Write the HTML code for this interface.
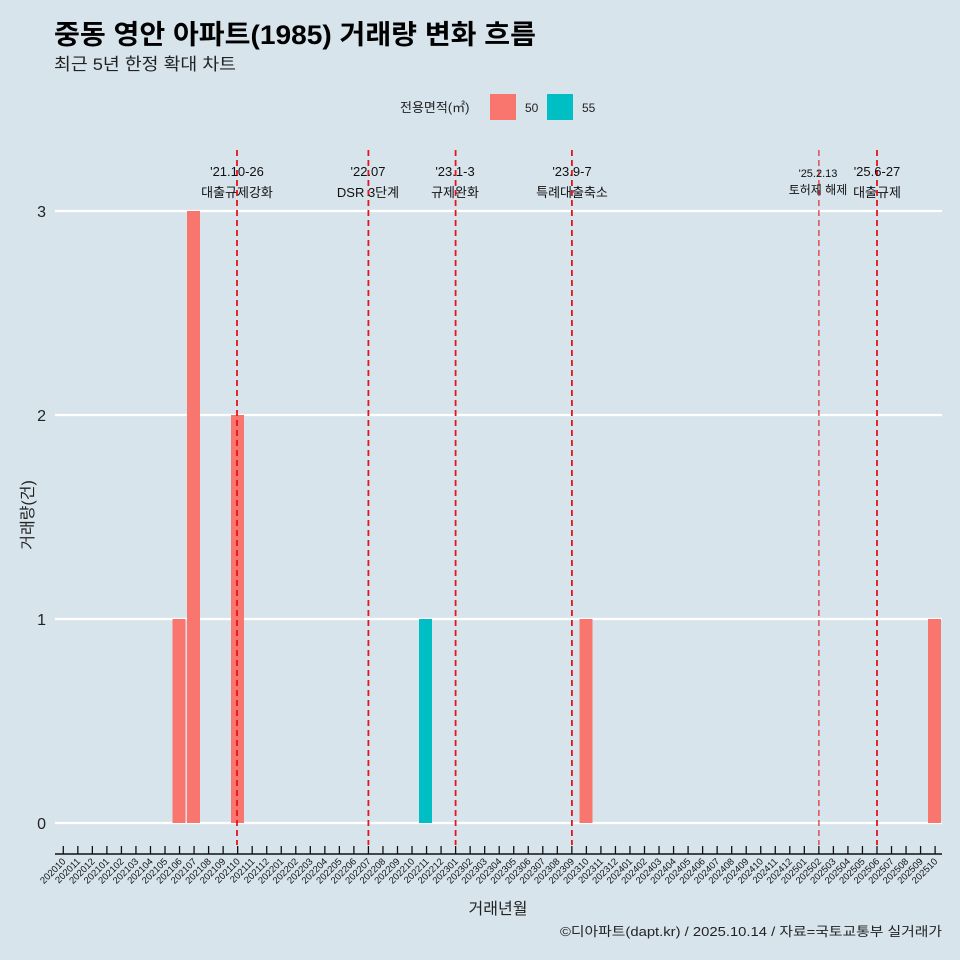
<!DOCTYPE html>
<html><head><meta charset="utf-8"><style>
html,body{margin:0;padding:0;background:#d7e4ec;}
svg{display:block;font-family:"Liberation Sans","Noto Sans CJK KR",sans-serif;}
</style></head><body>
<svg width="960" height="960" viewBox="0 0 960 960" xmlns="http://www.w3.org/2000/svg">
<rect width="960" height="960" fill="#d7e4ec"/>
<text x="54" y="44" font-size="27" font-weight="bold" fill="#000" textLength="482" lengthAdjust="spacingAndGlyphs">중동 영안 아파트(1985) 거래량 변화 흐름</text>
<text x="54" y="70" font-size="17" fill="#222" textLength="182" lengthAdjust="spacingAndGlyphs">최근 5년 한정 확대 차트</text>
<text x="400" y="112" font-size="13" fill="#222">전용면적(㎡)</text>
<rect x="490" y="94" width="26" height="26" fill="#f8766d"/>
<text x="525" y="112" font-size="12" fill="#222">50</text>
<rect x="547" y="94" width="26" height="26" fill="#00bfc4"/>
<text x="582" y="112" font-size="12" fill="#222">55</text>
<g stroke="#fff" stroke-width="2.2">
<line x1="55" x2="942" y1="823" y2="823"/>
<line x1="55" x2="942" y1="619" y2="619"/>
<line x1="55" x2="942" y1="415" y2="415"/>
<line x1="55" x2="942" y1="211" y2="211"/>
</g>
<g font-size="16" fill="#222" text-anchor="end">
<text x="46" y="829">0</text><text x="46" y="625">1</text><text x="46" y="421">2</text><text x="46" y="217">3</text>
</g>
<text transform="translate(33,515) rotate(-90)" font-size="16" fill="#222" text-anchor="middle">거래량(건)</text>
<g fill="#f8766d">
<rect x="172.5" y="619" width="13" height="204"/>
<rect x="187" y="211" width="13" height="612"/>
<rect x="231" y="415" width="13" height="408"/>
<rect x="579.5" y="619" width="13" height="204"/>
<rect x="928" y="619" width="13" height="204"/>
</g>
<rect x="419" y="619" width="13" height="204" fill="#00bfc4"/>
<g stroke="#e8131b" stroke-width="1.8" stroke-dasharray="6,4">
<line x1="237" x2="237" y1="150" y2="845"/>
<line x1="368.4" x2="368.4" y1="150" y2="845"/>
<line x1="455.6" x2="455.6" y1="150" y2="845"/>
<line x1="571.9" x2="571.9" y1="150" y2="845"/>
<line x1="877" x2="877" y1="150" y2="845"/>
<line x1="818.9" x2="818.9" y1="150" y2="845" stroke-width="1.1"/>
</g>
<g font-size="13" fill="#111" text-anchor="middle">
<text x="237" y="176">'21.10-26</text><text x="237" y="197">대출규제강화</text>
<text x="368" y="176">'22.07</text><text x="368" y="197">DSR 3단계</text>
<text x="455" y="176">'23.1-3</text><text x="455" y="197">규제완화</text>
<text x="572" y="176">'23.9-7</text><text x="572" y="197">특례대출축소</text>
<text x="877" y="176">'25.6-27</text><text x="877" y="197">대출규제</text>
<text x="818" y="177" font-size="11">'25.2.13</text><text x="818" y="194" font-size="12">토허제 해제</text>
</g>
<line x1="55" x2="942" y1="854" y2="854" stroke="#111" stroke-width="1.5"/>
<g id="ticks" stroke="#111" stroke-width="1.3"></g>
<g id="labs" font-size="9.5" fill="#111" text-anchor="end"></g>
<text x="498" y="914" font-size="16" fill="#222" text-anchor="middle">거래년월</text>
<text x="942" y="936" font-size="13" fill="#222" text-anchor="end" textLength="382" lengthAdjust="spacingAndGlyphs">©디아파트(dapt.kr) / 2025.10.14 / 자료=국토교통부 실거래가</text>
<script>
(function(){
var ns="http://www.w3.org/2000/svg",t=document.getElementById("ticks"),l=document.getElementById("labs");
var y=2020,m=10;
for(var i=0;i<61;i++){
 var x=63.3+i*14.53;
 var ln=document.createElementNS(ns,"line");ln.setAttribute("x1",x);ln.setAttribute("x2",x);ln.setAttribute("y1",846);ln.setAttribute("y2",854);t.appendChild(ln);
 var tx=document.createElementNS(ns,"text");tx.setAttribute("transform","translate("+(x+3)+",862) rotate(-45)");
 tx.textContent=y+(m<10?"0":"")+m;l.appendChild(tx);
 m++;if(m>12){m=1;y++;}
}
})();
</script>
</svg>
</body></html>
